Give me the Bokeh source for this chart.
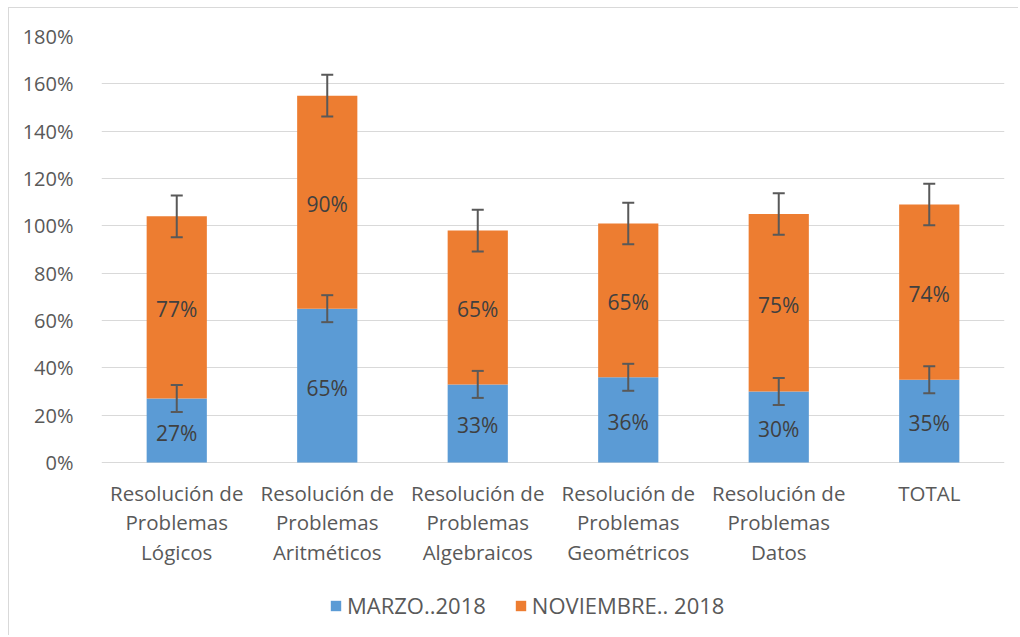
from bokeh.plotting import figure
from bokeh.models import (ColumnDataSource, FactorRange, Whisker, TeeHead, Legend,
                          LegendItem, NumeralTickFormatter, FixedTicker, Range1d)
from bokeh.core.properties import value
from bokeh.embed import file_html
from bokeh.resources import INLINE

categories = ["Resolución de\nProblemas\nLógicos", "Resolución de\nProblemas\nAritméticos",
              "Resolución de\nProblemas\nAlgebraicos", "Resolución de\nProblemas\nGeométricos",
              "Resolución de\nProblemas\nDatos", "TOTAL"]
marzo = [0.27, 0.65, 0.33, 0.36, 0.30, 0.35]
noviembre = [0.77, 0.90, 0.65, 0.65, 0.75, 0.74]
marzo_err = [0.057, 0.057, 0.057, 0.057, 0.057, 0.057]
noviembre_err = [0.088, 0.088, 0.088, 0.088, 0.088, 0.088]
series_names = ["MARZO..2018", "NOVIEMBRE.. 2018"]
y_ticks = [0, 0.2, 0.4, 0.6, 0.8, 1.0, 1.2, 1.4, 1.6, 1.8]

BLUE = "#5B9BD5"
ORANGE = "#ED7D31"
TXT = "#595959"
FONT = "Open Sans"

# layout (pixels)
W, H = 1010, 628
TOP, LEFT, RIGHT = 28, 92, 15
PLOT_H = 426          # height of 0%..180%
BELOW = H - TOP - PLOT_H
y_max = y_ticks[-1]
y_min = -BELOW * y_max / PLOT_H

top1 = marzo
top2 = [a + b for a, b in zip(marzo, noviembre)]
src = ColumnDataSource(dict(
    cat=categories, marzo=marzo, noviembre=noviembre,
    lo1=[t - e for t, e in zip(top1, marzo_err)], hi1=[t + e for t, e in zip(top1, marzo_err)],
    lo2=[t - e for t, e in zip(top2, noviembre_err)], hi2=[t + e for t, e in zip(top2, noviembre_err)],
    mid1=[m / 2 for m in marzo], mid2=[m + n / 2 for m, n in zip(marzo, noviembre)],
    lab1=[f"{round(v*100)}%" for v in marzo], lab2=[f"{round(v*100)}%" for v in noviembre],
    base=[0] * len(categories),
))

p = figure(width=W, height=H, x_range=FactorRange(*categories), y_range=Range1d(y_min, y_max),
           output_backend="svg", toolbar_location=None,
           min_border_left=LEFT, min_border_right=RIGHT, min_border_top=TOP, min_border_bottom=0)
p.styles = {"border-left": "1px solid #d9d9d9", "border-top": "1px solid #d9d9d9",
            "margin-left": "8px", "margin-top": "7px"}
p.outline_line_color = None
p.background_fill_color = "white"
p.border_fill_color = "white"

rs = p.vbar_stack(["marzo", "noviembre"], x="cat", width=0.4, color=[BLUE, ORANGE],
                  line_color=None, source=src)

for lo, hi in (("lo1", "hi1"), ("lo2", "hi2")):
    w = Whisker(source=src, base="cat", lower=lo, upper=hi, line_color="#595959", line_width=2,
                upper_head=TeeHead(size=12, line_color="#595959", line_width=2),
                lower_head=TeeHead(size=12, line_color="#595959", line_width=2),
                level="annotation")
    p.add_layout(w)

for ycol, lcol in (("mid1", "lab1"), ("mid2", "lab2")):
    p.text(x="cat", y=ycol, text=lcol, source=src, text_align="center", text_baseline="middle",
           y_offset=2, text_font=value(FONT), text_font_size="21px", text_color="#404040")

# category labels below the baseline
p.text(x="cat", y="base", text="cat", source=src, text_align="center", text_baseline="top",
       y_offset=16, text_font=value(FONT), text_font_size="20.5px", text_color=TXT,
       text_line_height=1.07)

p.yaxis.ticker = FixedTicker(ticks=y_ticks)
p.yaxis.formatter = NumeralTickFormatter(format="0%")
p.yaxis.axis_line_color = None
p.yaxis.major_tick_line_color = None
p.yaxis.minor_tick_line_color = None
p.yaxis.major_label_standoff = 22
p.yaxis.major_label_text_font = FONT
p.yaxis.major_label_text_font_size = "20px"
p.yaxis.major_label_text_color = TXT
p.xaxis.visible = False

p.xgrid.grid_line_color = None
p.ygrid.ticker = FixedTicker(ticks=y_ticks)
p.ygrid.grid_line_color = "#d9d9d9"
p.ygrid.grid_line_width = 1

legend = Legend(items=[LegendItem(label=series_names[0], renderers=[rs[0]]),
                       LegendItem(label=series_names[1], renderers=[rs[1]])],
                location=(228, 16), orientation="horizontal", margin=0,
                glyph_width=13, glyph_height=13, label_standoff=5, spacing=28, padding=0,
                border_line_color=None, background_fill_alpha=0,
                label_text_font=FONT, label_text_font_size="22px", label_text_color=TXT)
p.add_layout(legend, "center")

open("out.html", "w").write(file_html(p, INLINE))
